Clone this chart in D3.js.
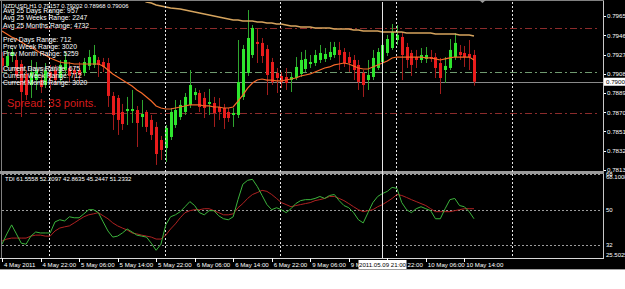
<!DOCTYPE html>
<html><head><meta charset="utf-8">
<script src="https://cdn.jsdelivr.net/npm/d3@7"></script>
<style>html,body{margin:0;padding:0;background:#fff}svg{display:block}text{font-family:"Liberation Sans",Arial,sans-serif}</style>
</head><body><svg id="c" width="625" height="289"></svg>
<script>
// ---------- DATA ----------
const open=[0.79241,0.79162,0.79260,0.79221,0.79181,0.79083,0.78974,0.79023,0.79023,0.78974,
0.79102,0.79122,0.79043,0.79122,0.79142,0.79122,0.79122,0.79093,0.79162,0.79172,
0.79221,0.79201,0.79191,0.78866,0.78846,0.78708,0.78717,0.78717,0.78727,0.78658,
0.78708,0.78629,0.78560,0.78431,0.78352,0.78461,0.78579,0.78658,0.78708,0.78777,
0.78875,0.78895,0.78846,0.78787,0.78796,0.78757,0.78747,0.78708,0.78678,0.78678,
0.78856,0.79093,0.79270,0.79399,0.79389,0.79329,0.79201,0.79093,0.79063,0.79053,
0.79023,0.79043,0.79083,0.79132,0.79181,0.79191,0.79221,0.79231,0.79250,0.79270,
0.79320,0.79300,0.79250,0.79221,0.79172,0.79093,0.79023,0.79053,0.79142,0.79201,
0.79290,0.79339,0.79418,0.79448,0.79349,0.79290,0.79250,0.79221,0.79231,0.79250,
0.79250,0.79191,0.79122,0.79142,0.79250,0.79300,0.79290,0.79280,0.79270];
const high=[0.79300,0.79320,0.79339,0.79270,0.79221,0.79122,0.79221,0.79201,0.79073,0.79191,
0.79172,0.79172,0.79221,0.79300,0.79201,0.79162,0.79201,0.79241,0.79320,0.79369,
0.79250,0.79241,0.79241,0.78905,0.78875,0.78787,0.78856,0.78925,0.78767,0.78826,
0.78727,0.78678,0.78609,0.78471,0.78579,0.78747,0.78826,0.78826,0.78895,0.79122,
0.78944,0.78925,0.78905,0.78935,0.78856,0.78846,0.78787,0.78747,0.78747,0.79418,
0.79369,0.79714,0.79566,0.79537,0.79438,0.79369,0.79241,0.79142,0.79102,0.79142,
0.79102,0.79250,0.79300,0.79320,0.79270,0.79320,0.79369,0.79339,0.79399,0.79399,
0.79399,0.79339,0.79300,0.79270,0.79221,0.79122,0.79221,0.79320,0.79339,0.79448,
0.79468,0.79576,0.79566,0.79487,0.79389,0.79320,0.79320,0.79339,0.79349,0.79320,
0.79290,0.79241,0.79250,0.79428,0.79487,0.79369,0.79359,0.79418,0.79320];
const low=[0.79102,0.79142,0.79201,0.79023,0.78658,0.78826,0.78846,0.78925,0.78895,0.78944,
0.78925,0.78974,0.79004,0.79073,0.79004,0.79023,0.79004,0.79063,0.79122,0.79142,
0.79053,0.79102,0.78757,0.78530,0.78481,0.78530,0.78579,0.78599,0.78362,0.78560,
0.78510,0.78431,0.78185,0.78234,0.78214,0.78431,0.78550,0.78629,0.78678,0.78747,
0.78826,0.78708,0.78648,0.78678,0.78560,0.78629,0.78540,0.78609,0.78560,0.78648,
0.78826,0.79063,0.79241,0.79191,0.79191,0.78875,0.78974,0.78895,0.78944,0.78925,
0.78905,0.79023,0.79053,0.79102,0.79142,0.79162,0.79191,0.79201,0.79221,0.79241,
0.79122,0.79152,0.79102,0.79023,0.78925,0.78856,0.78925,0.79023,0.79122,0.79172,
0.79260,0.79320,0.79369,0.79023,0.79142,0.79063,0.79142,0.79191,0.79191,0.79201,
0.79043,0.78885,0.78994,0.79122,0.79221,0.79221,0.79152,0.79122,0.78968];
const close=[0.79162,0.79260,0.79300,0.79063,0.78905,0.78875,0.79102,0.79122,0.78954,0.79122,
0.79043,0.79023,0.79172,0.79221,0.79063,0.79083,0.79073,0.79201,0.79250,0.79270,
0.79172,0.79152,0.78866,0.78678,0.78629,0.78589,0.78737,0.78737,0.78599,0.78688,
0.78560,0.78481,0.78293,0.78333,0.78550,0.78708,0.78727,0.78777,0.78856,0.78974,
0.78905,0.78757,0.78747,0.78806,0.78698,0.78708,0.78648,0.78648,0.78698,0.79004,
0.79329,0.79438,0.79537,0.79379,0.79260,0.79073,0.79004,0.79043,0.79004,0.78994,
0.79053,0.79152,0.79221,0.79231,0.79201,0.79270,0.79290,0.79280,0.79300,0.79349,
0.79270,0.79191,0.79191,0.79122,0.79004,0.78974,0.79073,0.79241,0.79300,0.79369,
0.79428,0.79497,0.79468,0.79270,0.79221,0.79172,0.79221,0.79270,0.79270,0.79231,
0.79142,0.79043,0.79162,0.79320,0.79389,0.79270,0.79250,0.79250,0.79006];
const maFast=[0.79507,0.79477,0.79448,0.79428,0.79399,0.79369,0.79349,0.79320,0.79290,0.79270,
0.79241,0.79221,0.79201,0.79191,0.79191,0.79181,0.79181,0.79181,0.79181,0.79181,
0.79181,0.79162,0.79122,0.79083,0.79053,0.79023,0.78994,0.78964,0.78925,0.78895,
0.78856,0.78816,0.78767,0.78747,0.78737,0.78737,0.78747,0.78757,0.78767,0.78777,
0.78777,0.78777,0.78767,0.78767,0.78757,0.78757,0.78747,0.78747,0.78757,0.78816,
0.78875,0.78944,0.78994,0.79023,0.79033,0.79023,0.79023,0.79014,0.79014,0.79023,
0.79033,0.79043,0.79063,0.79073,0.79083,0.79102,0.79122,0.79142,0.79152,0.79172,
0.79181,0.79191,0.79181,0.79162,0.79142,0.79132,0.79132,0.79152,0.79172,0.79191,
0.79211,0.79241,0.79250,0.79250,0.79250,0.79250,0.79250,0.79250,0.79241,0.79241,
0.79231,0.79221,0.79231,0.79241,0.79250,0.79250,0.79250,0.79250,0.79221];
const maSlowStart=28;
const maSlow=[0.79833,0.79813,0.79793,0.79783,0.79764,0.79754,0.79744,0.79734,0.79729,0.79724,
0.79714,0.79704,0.79695,0.79685,0.79675,0.79665,0.79655,0.79645,0.79635,0.79625,
0.79616,0.79616,0.79606,0.79606,0.79606,0.79596,0.79596,0.79586,0.79586,0.79576,
0.79576,0.79566,0.79556,0.79556,0.79547,0.79547,0.79547,0.79537,0.79537,0.79537,
0.79537,0.79527,0.79527,0.79527,0.79527,0.79517,0.79517,0.79507,0.79507,0.79507,
0.79507,0.79497,0.79497,0.79497,0.79497,0.79497,0.79487,0.79487,0.79487,0.79487,
0.79487,0.79487,0.79477,0.79477,0.79477,0.79477,0.79477,0.79468,0.79468,0.79468,
0.79458];
const tdiPrice=[32.5,37.7,42.3,37.7,33.0,32.5,36.6,38.7,38.2,38.2,
38.2,43.8,44.9,44.3,46.4,45.9,45.9,47.9,50.0,50.0,
48.5,43.8,39.2,36.1,36.6,38.2,40.2,38.7,37.1,36.6,
36.1,33.0,29.4,32.5,42.3,46.4,47.4,49.0,51.5,54.1,
52.1,48.5,47.4,49.5,49.5,46.9,45.4,44.9,46.4,55.1,
62.9,64.9,65.4,61.8,57.2,52.6,50.0,51.0,50.0,48.5,
50.5,53.1,54.6,55.1,55.1,55.7,56.7,55.7,57.2,57.7,
54.6,52.1,51.0,48.5,44.9,43.3,48.5,53.6,56.7,58.2,
59.3,61.3,60.8,53.6,50.0,48.5,50.5,51.5,50.5,49.5,
45.4,45.4,50.5,55.1,55.7,52.1,51.5,49.0,45.4];
const tdiSignal=[34.1,35.1,35.6,35.6,35.6,35.6,36.6,37.1,37.1,36.6,
36.6,39.2,40.7,41.3,41.8,43.3,44.9,46.4,47.4,47.9,
48.5,46.9,45.4,43.3,41.8,40.7,39.7,38.2,37.7,37.1,
36.6,36.1,35.1,35.1,37.1,40.2,42.8,45.9,48.5,49.5,
50.0,50.0,50.5,50.5,49.5,48.5,47.4,47.4,47.9,51.0,
53.1,55.7,57.7,58.7,59.8,59.3,57.7,55.7,53.6,52.6,
51.5,52.1,52.6,53.1,53.6,54.6,55.1,55.7,56.7,56.7,
55.7,54.6,53.1,51.5,50.0,49.0,49.5,50.0,51.5,52.6,
54.1,55.7,57.7,57.2,56.2,55.1,54.1,53.1,52.1,50.5,
49.0,49.0,49.0,49.0,49.5,50.0,50.5,50.5,50.5];
const priceTicks=[0.79655,0.79465,0.79275,0.79085,0.78895,0.78705,0.78515,0.78325,0.78135];
const tdiLevels=[68,50,32];
const tdiRange=[25.5025,68.1008];
const hLevels=[{p:0.79537,c:"#8c2b2b"},{p:0.79102,c:"#6f9a6f"},{p:0.78700,c:"#8c2b2b"}];
const timeBars=[0,8,16,24,32,40,48,56,64,72,80,88,96];
const timeLabels=["4 May 2011","4 May 22:00","5 May 06:00","5 May 14:00","5 May 22:00","6 May 06:00","6 May 14:00","6 May 22:00","9 May 06:00","9 May 14:00","9 May 22:00","10 May 06:00","10 May 14:00"];
const separatorBars=[10,34,58,82,106];
const crossBar=79, crossLabel="2011.05.09 21:00";
const headerText="NZDUSD,H1  0.79157 0.79202 0.78968 0.79006";
const infoLines=[["Avg 25  Days Range: 957",11],["Avg 25  Weeks Range: 2247",18],["Avg 25  Months Range: 4732",25.5],
["Prev  Days Range: 712",40],["Prev  Week Range: 3020",47],["Prev  Month Range: 5259",54],
["Current Days Range: 675",68.5],["Current  Week Range: 712",76],["Current  Month Range: 3020",83]];
const spreadText="Spread: 33 points.";
const tdiTitle="TDI 61.5558 52.2097 42.8635 45.2447 51.2332";

// ---------- SCALES ----------
const svg=d3.select("#c");
const x=d3.scaleLinear().domain([0,98]).range([2,474]);
const yP=d3.scaleLinear().domain([0.78135,0.79655]).range([170,16]);
const yT=d3.scaleLinear().domain(tdiRange).range([258,174]);
const px=i=>Math.round(x(i))+0.5;

svg.append("rect").attr("width",625).attr("height",269).attr("fill","#000");
svg.append("line").attr("x1",0).attr("x2",625).attr("y1",269.5).attr("y2",269.5).attr("stroke","#a0a0a0");

const defs=svg.append("defs");
defs.append("clipPath").attr("id","cm").append("rect").attr("x",2).attr("y",2).attr("width",601).attr("height",169);
defs.append("clipPath").attr("id","ct").append("rect").attr("x",2).attr("y",174).attr("width",601).attr("height",84);

// frames
svg.append("line").attr("x1",1.5).attr("x2",1.5).attr("y1",0).attr("y2",258).attr("stroke","#808080");
svg.append("line").attr("x1",603.5).attr("x2",603.5).attr("y1",0).attr("y2",258.5).attr("stroke","#c8c8c8");
svg.append("line").attr("x1",0).attr("x2",604).attr("y1",0.5).attr("y2",0.5).attr("stroke","#808080");
svg.append("rect").attr("x",0).attr("y",171).attr("width",604).attr("height",3).attr("fill","#9a9a9a");
svg.append("line").attr("x1",0).attr("x2",604).attr("y1",258.5).attr("y2",258.5).attr("stroke","#d8d8d8");

// ---------- MAIN ----------
const gm=svg.append("g").attr("clip-path","url(#cm)");
gm.selectAll("line.lvl").data(hLevels).join("line").attr("class","lvl")
 .attr("x1",0).attr("x2",600).attr("y1",d=>Math.round(yP(d.p))+0.5).attr("y2",d=>Math.round(yP(d.p))+0.5)
 .attr("stroke",d=>d.c).attr("stroke-dasharray","7,3,2,3");
const bid=close[close.length-1];
gm.append("line").attr("x1",0).attr("x2",603).attr("y1",Math.round(yP(bid))+0.5).attr("y2",Math.round(yP(bid))+0.5).attr("stroke","#8a8a8a");

// separators (both windows)
svg.selectAll("line.sep").data(separatorBars).join("line").attr("class","sep")
 .attr("x1",d=>px(d)-1).attr("x2",d=>px(d)-1).attr("y1",2).attr("y2",258)
 .attr("stroke","#e8e8e8").attr("stroke-dasharray","2,2");

const bars=d3.range(open.length).map(i=>({i,o:open[i],h:high[i],l:low[i],c:close[i]}));
gm.selectAll("line.wick").data(bars).join("line").attr("class","wick")
 .attr("x1",d=>px(d.i)).attr("x2",d=>px(d.i))
 .attr("y1",d=>yP(d.h)).attr("y2",d=>yP(d.l))
 .attr("stroke",d=>d.c>=d.o?"#2fa52f":"#a31c1c");
gm.selectAll("rect.body").data(bars).join("rect").attr("class","body")
 .attr("x",d=>Math.round(x(d.i))-1).attr("width",3)
 .attr("y",d=>Math.min(yP(d.o),yP(d.c)))
 .attr("height",d=>Math.max(1.2,Math.abs(yP(d.o)-yP(d.c))))
 .attr("fill",d=>d.c>=d.o?"#2ee62e":"#e81c1c");

const lineP=d3.line().x((d,i)=>x(i)).y(d=>yP(d));
gm.append("path").attr("d",lineP(maFast)).attr("fill","none").attr("stroke","#f66a2a").attr("stroke-width",1.2);
gm.append("path").attr("d",d3.line().x((d,i)=>x(i+maSlowStart)).y(d=>yP(d))(maSlow))
 .attr("fill","none").attr("stroke","#d6a45e").attr("stroke-width",1.4);

// ---------- TDI ----------
const gt=svg.append("g").attr("clip-path","url(#ct)");
gt.selectAll("line.tl").data(tdiLevels).join("line").attr("class","tl")
 .attr("x1",2).attr("x2",601).attr("y1",d=>Math.round(yT(d))+0.5).attr("y2",d=>Math.round(yT(d))+0.5)
 .attr("stroke","#9c9c9c").attr("stroke-dasharray","2,2");
const lineT=d3.line().x((d,i)=>x(i)).y(d=>yT(d));
gt.append("path").attr("d",lineT(tdiSignal)).attr("fill","none").attr("stroke","#b02222").attr("stroke-width",1);
gt.append("path").attr("d",lineT(tdiPrice)).attr("fill","none").attr("stroke","#3cb43c").attr("stroke-width",1);

// crosshair
svg.append("line").attr("x1",px(crossBar)).attr("x2",px(crossBar)).attr("y1",2).attr("y2",258).attr("stroke","#e6e6e6");

// chart shift marker
svg.append("path").attr("d","M479,0 L486,0 L482.5,3 Z").attr("fill","#9a9a9a");

// ---------- TEXTS ----------
const txt=(g,s,xx,yy,size,fill)=>g.append("text").attr("x",xx).attr("y",yy).attr("font-size",size).attr("fill",fill).text(s);
txt(svg,headerText,3,7.5,5.9,"#fff");
infoLines.forEach(([s,yy])=>txt(svg,s,3,yy+2.3,6.8,"#fff"));
txt(svg,"Current Range: 675",3,70.5,6.8,"#d0d0d0").attr("opacity",0.6);
txt(svg,spreadText,7,106.5,11,"#d61c1c");
txt(svg,tdiTitle,5,181,6,"#fff");

// price axis
svg.selectAll("line.pt").data(priceTicks).join("line").attr("class","pt")
 .attr("x1",604).attr("x2",606).attr("y1",d=>Math.round(yP(d))+0.5).attr("y2",d=>Math.round(yP(d))+0.5).attr("stroke","#fff");
svg.selectAll("text.pl").data(priceTicks).join("text").attr("class","pl")
 .attr("x",607).attr("y",d=>yP(d)+2.3).attr("font-size",6.2).attr("fill","#fff").text(d3.format(".5f"));
svg.append("rect").attr("x",604).attr("y",yP(bid)-4).attr("width",21).attr("height",8).attr("fill","#fff");
txt(svg,d3.format(".5f")(bid),606,yP(bid)+2.3,6.2,"#000");

// tdi axis
const tdiLab=[{v:tdiRange[1],s:tdiRange[1].toFixed(4),dy:5},{v:68,s:"68",dy:2.3},{v:50,s:"50",dy:2.3},{v:32,s:"32",dy:2.3},{v:tdiRange[0],s:tdiRange[0].toFixed(4),dy:-1}];
svg.selectAll("text.tdl").data(tdiLab).join("text").attr("class","tdl")
 .attr("x",606).attr("y",d=>yT(d.v)+d.dy).attr("font-size",6).attr("fill","#fff").text(d=>d.s);

// time axis
svg.selectAll("line.tt").data(timeBars).join("line").attr("class","tt")
 .attr("x1",d=>px(d)).attr("x2",d=>px(d)).attr("y1",258).attr("y2",262).attr("stroke","#fff");
svg.selectAll("text.tx").data(timeBars).join("text").attr("class","tx")
 .attr("x",d=>x(d)+2).attr("y",267).attr("font-size",6.1).attr("fill","#fff").text((d,i)=>timeLabels[i]);
svg.append("rect").attr("x",px(crossBar)-24).attr("y",260).attr("width",48).attr("height",9).attr("fill","#fff");
svg.append("text").attr("x",px(crossBar)).attr("y",267).attr("text-anchor","middle").attr("font-size",6.1).attr("fill","#000").text(crossLabel);
</script></body></html>
